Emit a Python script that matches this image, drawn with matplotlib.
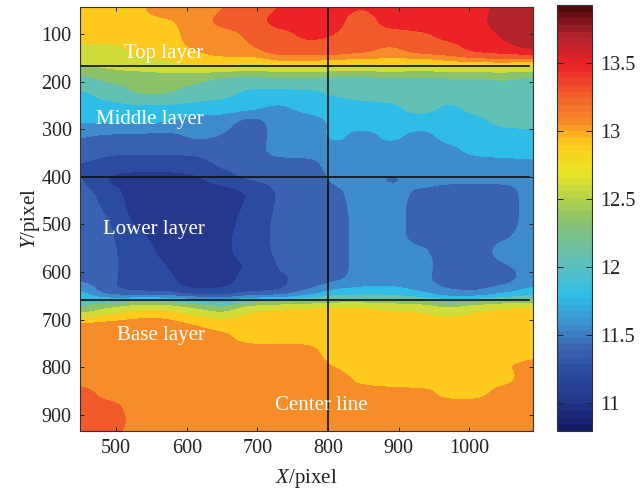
import matplotlib
matplotlib.use('Agg')
import numpy as np
import matplotlib.pyplot as plt
from matplotlib.cm import ScalarMappable
from matplotlib.colors import BoundaryNorm, LinearSegmentedColormap, ListedColormap, Normalize

plt.rcParams['font.family'] = ['Liberation Serif', 'DejaVu Serif']
plt.rcParams['mathtext.fontset'] = 'custom'
plt.rcParams['mathtext.it'] = 'Liberation Serif:italic'
plt.rcParams['mathtext.rm'] = 'Liberation Serif'

# cell centres of the image: 40 apart in x, 30 apart in y
x_first, x_last = 450, 1090
y_first, y_last = 45, 945

# one row per y step
values = [
    [12.95, 12.95, 12.95, 13.1, 13.1, 13.15, 13.3, 13.4, 13.45, 13.45, 13.4, 13.5, 13.5, 13.5, 13.55, 13.65, 13.75],
    [12.95, 12.95, 12.95, 12.95, 13.05, 13.25, 13.3, 13.5, 13.5, 13.45, 13.3, 13.5, 13.5, 13.5, 13.55, 13.7, 13.75],
    [12.9, 12.9, 12.92, 12.92, 13.05, 13.05, 13.2, 13.3, 13.45, 13.4, 13.3, 13.3, 13.35, 13.45, 13.5, 13.62, 13.75],
    [12.7, 12.7, 12.85, 12.92, 13.0, 13.07, 13.15, 13.3, 13.3, 13.3, 13.25, 13.1, 13.3, 13.3, 13.5, 13.55, 13.65],
    [12.5, 12.6, 12.7, 12.75, 12.85, 12.9, 12.75, 12.9, 12.9, 12.85, 12.8, 12.9, 12.75, 12.9, 12.9, 12.9, 12.85],
    [12.1, 12.25, 12.25, 12.3, 12.25, 12.1, 12.05, 12.1, 12.1, 12.05, 12.05, 12.1, 12.1, 12.1, 12.1, 12.15, 12.05],
    [11.85, 12.05, 12.25, 12.25, 12.1, 12.0, 11.85, 11.85, 11.85, 11.95, 12.05, 12.05, 12.1, 12.05, 12.05, 12.25, 12.05],
    [11.8, 11.8, 11.85, 11.85, 11.8, 11.8, 11.75, 11.6, 11.75, 11.8, 11.8, 11.85, 12.05, 11.85, 12.0, 12.05, 12.05],
    [11.7, 11.7, 11.7, 11.7, 11.55, 11.55, 11.3, 11.55, 11.55, 11.7, 11.8, 11.8, 11.8, 11.8, 11.85, 12.0, 12.0],
    [11.45, 11.4, 11.4, 11.35, 11.5, 11.45, 11.3, 11.55, 11.55, 11.75, 11.55, 11.75, 11.55, 11.75, 11.8, 11.8, 11.85],
    [11.4, 11.3, 11.3, 11.3, 11.3, 11.35, 11.35, 11.55, 11.55, 11.55, 11.72, 11.55, 11.6, 11.6, 11.75, 11.8, 11.8],
    [11.25, 11.2, 11.2, 11.2, 11.2, 11.3, 11.35, 11.35, 11.35, 11.55, 11.55, 11.55, 11.55, 11.55, 11.55, 11.55, 11.6],
    [11.3, 11.05, 11.0, 11.0, 11.05, 11.2, 11.3, 11.3, 11.3, 11.5, 11.55, 11.38, 11.55, 11.5, 11.5, 11.5, 11.5],
    [11.35, 11.2, 11.0, 10.98, 10.98, 10.98, 11.1, 11.3, 11.3, 11.4, 11.55, 11.55, 11.4, 11.35, 11.35, 11.35, 11.55],
    [11.35, 11.25, 11.0, 10.98, 10.98, 10.98, 11.15, 11.3, 11.3, 11.38, 11.55, 11.55, 11.35, 11.35, 11.35, 11.35, 11.55],
    [11.35, 11.3, 11.05, 10.98, 10.98, 11.0, 11.2, 11.3, 11.3, 11.35, 11.55, 11.55, 11.35, 11.35, 11.35, 11.35, 11.55],
    [11.35, 11.3, 11.15, 11.0, 10.98, 11.05, 11.2, 11.3, 11.3, 11.35, 11.55, 11.55, 11.35, 11.35, 11.35, 11.42, 11.55],
    [11.35, 11.3, 11.2, 11.05, 11.0, 11.05, 11.2, 11.3, 11.3, 11.35, 11.55, 11.55, 11.5, 11.35, 11.35, 11.55, 11.55],
    [11.38, 11.3, 11.2, 11.1, 11.0, 11.05, 11.1, 11.3, 11.3, 11.35, 11.55, 11.55, 11.55, 11.35, 11.35, 11.45, 11.5],
    [11.4, 11.3, 11.2, 11.15, 11.0, 11.05, 11.15, 11.25, 11.3, 11.38, 11.55, 11.55, 11.5, 11.35, 11.35, 11.35, 11.55],
    [11.75, 11.25, 11.2, 11.2, 11.1, 11.1, 11.2, 11.2, 11.45, 11.78, 11.78, 11.8, 11.65, 11.45, 11.4, 11.6, 11.78],
    [12.2, 12.6, 12.85, 12.85, 12.6, 12.3, 12.8, 12.9, 12.92, 12.92, 12.92, 12.8, 12.8, 12.55, 12.8, 12.9, 12.9],
    [13.05, 13.05, 13.05, 13.05, 13.0, 12.92, 12.92, 12.92, 12.92, 12.92, 12.92, 12.9, 12.92, 12.92, 12.92, 12.92, 13.0],
    [13.05, 13.05, 13.05, 13.05, 13.05, 13.03, 12.92, 12.92, 12.92, 12.92, 12.92, 12.92, 12.92, 12.98, 12.92, 12.92, 12.95],
    [13.05, 13.05, 13.05, 13.05, 13.05, 13.05, 13.05, 13.05, 13.05, 12.92, 12.92, 12.92, 12.92, 12.92, 12.92, 12.92, 12.98],
    [13.05, 13.05, 13.05, 13.05, 13.05, 13.05, 13.05, 13.05, 13.05, 12.98, 12.92, 12.92, 12.92, 12.95, 12.92, 13.0, 13.0],
    [13.05, 13.05, 13.05, 13.05, 13.05, 13.05, 13.05, 13.05, 13.05, 13.05, 12.95, 12.92, 12.92, 13.02, 12.92, 12.95, 13.05],
    [13.3, 13.05, 13.05, 13.05, 13.05, 13.05, 13.05, 13.05, 13.05, 13.05, 13.05, 13.05, 13.03, 12.95, 12.95, 13.05, 13.05],
    [13.3, 13.3, 13.05, 13.05, 13.05, 13.05, 13.05, 13.05, 13.05, 13.05, 13.05, 13.05, 13.05, 13.05, 13.05, 13.05, 13.05],
    [13.3, 13.3, 13.1, 13.05, 13.05, 13.05, 13.05, 13.05, 13.05, 13.05, 13.05, 13.05, 13.05, 13.05, 13.05, 13.05, 13.05],
    [13.3, 13.25, 13.05, 13.05, 13.05, 13.05, 13.05, 13.05, 13.05, 13.05, 13.05, 13.05, 13.05, 13.05, 13.05, 13.05, 13.05],
]

x_ticks = [500, 600, 700, 800, 900, 1000]
y_ticks = [100, 200, 300, 400, 500, 600, 700, 800, 900]
cbar_ticks = [11, 11.5, 12, 12.5, 13, 13.5]
cbar_labels = ['11', '11.5', '12', '12.5', '13', '13.5']

h_lines = [167, 400, 659]
center_x = 800

layer_names = ['Top layer', 'Middle layer', 'Lower layer', 'Base layer', 'Center line']
layer_x = [567, 548, 553, 564, 790]
layer_y = [140, 279, 510, 733, 880]

vmin, vmax = 10.79, 13.93
band_edges = [10.79, 10.93, 11.1, 11.27, 11.45, 11.67, 11.92, 12.2, 12.5, 12.8, 12.99, 13.17, 13.4, 13.6, 13.8, 13.93]
band_colors = ['#1a2474', '#25388c', '#2a4ba0', '#3a62b0', '#3e8ccc', '#2fbde8', '#62c0b4', '#8cc26a',
               '#cfdc3a', '#fdca1d', '#f68d29', '#f15a2a', '#ec2227', '#b3232b', '#6e0f14']
bar_anchors = [(10.79, '#141c66'), (11.0, '#25388c'), (11.2, '#2a4ba0'), (11.38, '#3a62b0'),
               (11.55, '#3e8ccc'), (11.78, '#2fbde8'), (12.05, '#62c0b4'), (12.35, '#8cc26a'),
               (12.7, '#e8e624'), (12.92, '#fdca1d'), (13.07, '#f68d29'), (13.3, '#f15a2a'),
               (13.5, '#ec2227'), (13.72, '#b3232b'), (13.93, '#54090f')]
bar_cmap = LinearSegmentedColormap.from_list(
    'layers', [((v - vmin) / (vmax - vmin), c) for v, c in bar_anchors], N=64)

fig = plt.figure(figsize=(6.4, 4.94), dpi=100)
ax = fig.add_axes([80 / 640, 1 - 431 / 494, 453 / 640, 424 / 494])
cax = fig.add_axes([557 / 640, 1 - 431 / 494, 35 / 640, 426 / 494])

# bands stay crisp because the smoothing happens before the colours are applied
ax.imshow(np.array(values), cmap=ListedColormap(band_colors), norm=BoundaryNorm(band_edges, len(band_colors)),
          extent=[x_first - 20, x_last + 20, y_last + 15, y_first - 15], aspect='auto',
          interpolation='gaussian', interpolation_stage='data')

for y in h_lines:
    ax.plot([450, 1085], [y, y], color='#111111', lw=1.2)
ax.plot([center_x, center_x], [43, 934], color='#111111', lw=1.2)

for name, x, y in zip(layer_names, layer_x, layer_y):
    ax.text(x, y, name, color='white', fontsize=15, ha='center', va='center')

ax.set_xlim(449, 1090)
ax.set_ylim(934, 43)
ax.set_xticks(x_ticks)
ax.set_yticks(y_ticks)
ax.tick_params(direction='in', top=True, right=True, length=3, width=0.7, labelsize=14.5,
               colors='#222222', pad=6)
for s in ax.spines.values():
    s.set_linewidth(0.8)
    s.set_color('#333333')
ax.set_xlabel('$X$/pixel', fontsize=15, color='#222222', labelpad=6)
ax.set_ylabel('$Y$/pixel', fontsize=15, color='#222222', labelpad=0)

sm = ScalarMappable(norm=Normalize(vmin, vmax), cmap=bar_cmap)
cb = fig.colorbar(sm, cax=cax, ticks=cbar_ticks)
cb.ax.set_yticklabels(cbar_labels)
cb.ax.tick_params(direction='in', left=True, right=True, length=4, width=0.7, labelsize=14.5,
                  colors='#222222', pad=6)
cb.outline.set_linewidth(0.8)
cb.outline.set_edgecolor('#333333')

fig.savefig('out.png', dpi=100)
